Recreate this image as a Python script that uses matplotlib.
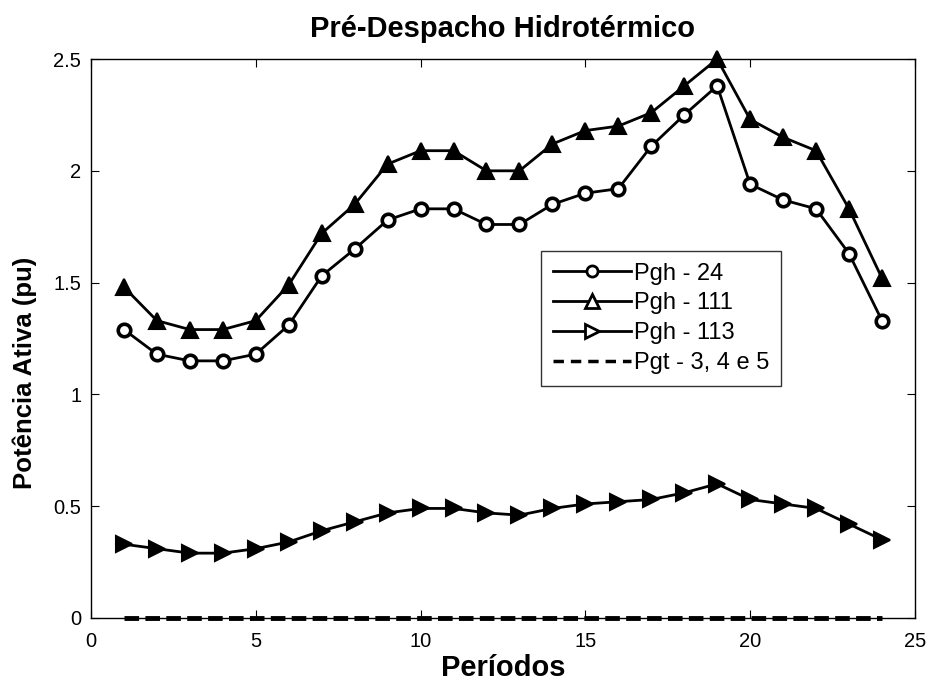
import matplotlib
matplotlib.use("Agg")
import matplotlib.pyplot as plt
from matplotlib.lines import Line2D

plt.rcParams['font.family'] = ['Liberation Sans', 'DejaVu Sans']

periods = list(range(1, 25))
pgh_24 = [1.29, 1.18, 1.15, 1.15, 1.18, 1.31, 1.53, 1.65, 1.78, 1.83, 1.83, 1.76,
          1.76, 1.85, 1.90, 1.92, 2.11, 2.25, 2.38, 1.94, 1.87, 1.83, 1.63, 1.33]
pgh_111 = [1.48, 1.33, 1.29, 1.29, 1.33, 1.49, 1.72, 1.85, 2.03, 2.09, 2.09, 2.00,
           2.00, 2.12, 2.18, 2.20, 2.26, 2.38, 2.50, 2.23, 2.15, 2.09, 1.83, 1.52]
pgh_113 = [0.33, 0.31, 0.29, 0.29, 0.31, 0.34, 0.39, 0.43, 0.47, 0.49, 0.49, 0.47,
           0.46, 0.49, 0.51, 0.52, 0.53, 0.56, 0.60, 0.53, 0.51, 0.49, 0.42, 0.35]
pgt_345 = [0.0] * 24
labels = ['Pgh - 24', 'Pgh - 111', 'Pgh - 113', 'Pgt - 3, 4 e 5']
xticks = [0, 5, 10, 15, 20, 25]
yticks = [0, 0.5, 1, 1.5, 2, 2.5]
yticklabels = ['0', '0.5', '1', '1.5', '2', '2.5']

fig = plt.figure(figsize=(9.3, 6.84), dpi=100)
ax = fig.add_axes([0.0978, 0.0965, 0.886, 0.8172])

lw = 2.0
ax.plot(periods, pgh_24, '-', color='k', lw=lw, marker='o', ms=9, mfc='white', mec='k', mew=2.6, clip_on=False)
ax.plot(periods, pgh_111, '-', color='k', lw=lw, marker='^', ms=12, mfc='k', mec='k', mew=1.5, clip_on=False)
ax.plot(periods, pgh_113, '-', color='k', lw=lw, marker='>', ms=12, mfc='k', mec='k', mew=1.5, clip_on=False)
ax.plot(periods, pgt_345, '--', color='k', lw=lw + 1.5, dashes=(3, 1.3), clip_on=False)

ax.set_xlim(0, 25)
ax.set_ylim(0, 2.5)
ax.set_xticks(xticks)
ax.set_yticks(yticks)
ax.set_yticklabels(yticklabels)
ax.tick_params(axis='both', direction='in', length=6, labelsize=14.5, top=True, right=True)
ax.tick_params(axis='x', pad=10)
ax.tick_params(axis='y', pad=7)
for s in ax.spines.values():
    s.set_linewidth(1.0)

ax.set_title('Pré-Despacho Hidrotérmico', fontsize=21, fontweight='bold', pad=16)
ax.set_xlabel('Períodos', fontsize=21, fontweight='bold', labelpad=2)
ax.set_ylabel('Potência Ativa (pu)', fontsize=18.5, fontweight='bold')
ax.yaxis.set_label_coords(-0.066, 0.438)

handles = [
    Line2D([], [], color='k', lw=lw, marker='o', ms=8, mfc='white', mec='k', mew=2.0),
    Line2D([], [], color='k', lw=lw, marker='^', ms=10, mfc='white', mec='k', mew=2.0),
    Line2D([], [], color='k', lw=lw, marker='>', ms=10, mfc='white', mec='k', mew=2.0),
    Line2D([], [], color='k', lw=lw + 0.5, ls='--', dashes=(3, 2)),
]
leg = ax.legend(handles, labels, loc='upper left', bbox_to_anchor=(0.546, 0.657),
                borderaxespad=0, fontsize=17, frameon=True, fancybox=False,
                edgecolor='k', handlelength=3.3, handletextpad=0.15,
                labelspacing=0.33, borderpad=0.5)
leg.get_frame().set_linewidth(1.0)

fig.savefig('out.png', dpi=100)
